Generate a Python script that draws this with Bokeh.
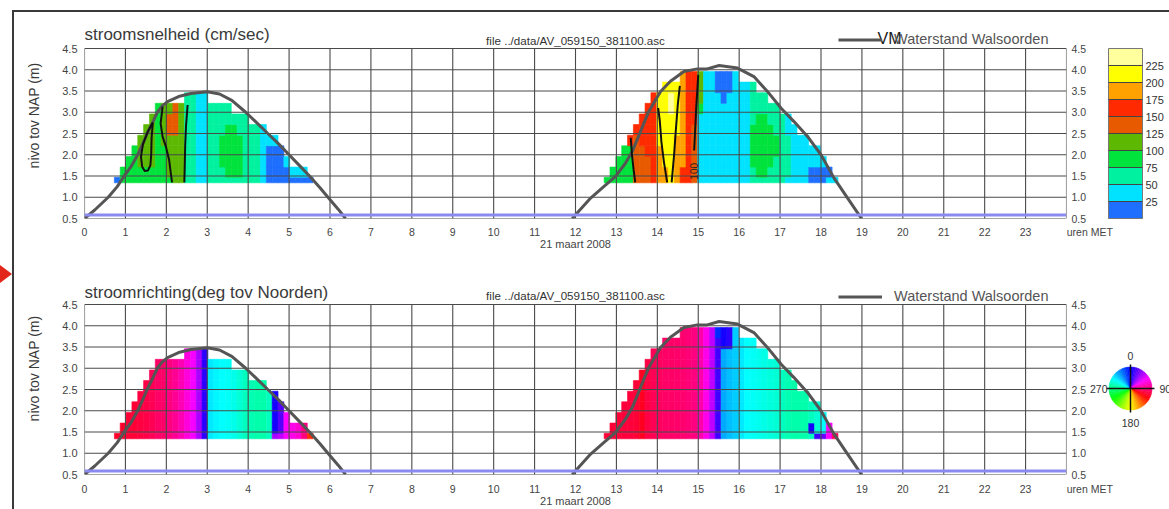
import math, colorsys
from bokeh.plotting import figure
from bokeh.layouts import column, row
from bokeh.models import (ColumnDataSource, LinearColorMapper, FixedTicker, LinearAxis, Range1d,
                          Span, ColorBar, Div, Spacer, PrintfTickFormatter, Legend, LegendItem)
from bokeh.transform import transform
from bokeh.core.properties import value
from bokeh.embed import file_html
from bokeh.resources import INLINE

FONT = "Liberation Sans"
GRID = "#4a4a4a"
TXT = "#3a3a3a"

# ---------------- axes / texts ----------------
hour_ticks = list(range(0, 25))
level_ticks = [0.5, 1.0, 1.5, 2.0, 2.5, 3.0, 3.5, 4.0, 4.5]
speed_ticks = [25, 50, 75, 100, 125, 150, 175, 200, 225]
date_label = "21 maart 2008"
time_unit = "uren MET"
ylabel = "nivo tov NAP (m)"
file_name = "file ../data/AV_059150_381100.asc"
title_speed = "stroomsnelheid (cm/sec)"
title_dir = "stroomrichting(deg tov Noorden)"
wl_name = "Waterstand Walsoorden"
stray_label = "VM"

# ---------------- water level Walsoorden (m NAP) ----------------
wl1_t = [0.0, 0.25, 0.58, 0.80, 0.97, 1.15, 1.30, 1.42, 1.53, 1.66, 1.78, 1.90, 2.03, 2.30, 2.60,
         3.00, 3.30, 3.60, 3.94, 4.20, 4.48, 4.75, 5.00, 5.25, 5.50, 5.75, 5.95, 6.20, 6.38]
wl1_z = [0.50, 0.70, 1.00, 1.25, 1.50, 1.74, 2.00, 2.25, 2.50, 2.75, 3.00, 3.15, 3.25, 3.37, 3.44,
         3.48, 3.43, 3.28, 3.00, 2.76, 2.50, 2.25, 2.00, 1.75, 1.50, 1.23, 1.00, 0.72, 0.50]
wl2_t = [11.92, 12.37, 12.69, 12.98, 13.22, 13.39, 13.59, 13.79, 14.08, 14.32, 14.65, 14.98, 15.22,
         15.51, 15.96, 16.36, 16.69, 17.02, 17.34, 17.67, 18.00, 18.32, 18.65, 18.99]
wl2_z = [0.50, 0.98, 1.25, 1.49, 1.80, 2.08, 2.55, 3.02, 3.49, 3.73, 3.96, 4.02, 4.02,
         4.10, 4.04, 3.84, 3.49, 3.10, 2.78, 2.43, 2.00, 1.45, 0.98, 0.50]
bodem_level = 0.58

# ---------------- ADCP grid ----------------
z_edges = [1.34, 1.47, 1.71, 1.96, 2.21, 2.46, 2.71, 2.96, 3.21, 3.46, 3.71, 3.96]
col_start = [0.73, 12.70]
col_width = 1 / 7.0

# speed class per cell (k -> 25k..25k+25 cm/s), one string per time column, from bottom upward
speed_1 = ["0", "33", "333", "3333", "33444", "334444", "3344444", "33333333", "33334444",
           "34444554", "44444555", "44444444", "222222222", "222222222", "111111111",
           "111111111", "22222222", "22222222", "22333222", "23333322", "2333332", "2333322",
           "2222222", "222222", "222222", "111111", "00001", "00001", "0000", "001", "01",
           "01", "01", "0"]
speed_2 = ["3", "33", "333", "3333", "33336", "555556", "5555666", "55566666", "666666666",
           "777788888", "7788888888", "8888888998", "7777788888", "66777777777", "66666666666",
           "55555566666", "11111113444", "11111111111", "11111111111", "11111111100",
           "11111111000", "11111111100", "11111111111", "1111111111", "1111111111",
           "2233332222", "233333322", "233333322", "22333322", "22233222", "2222222",
           "1222211", "111111", "11111", "11111", "0011", "0011", "001", "10", "1"]
# direction (deg tov Noorden) per time column
dir_1 = [110, 110, 108, 107, 105, 103, 100, 97, 95, 90, 85, 78, 68, 58, 40, 10, 305, 302, 300,
         298, 295, 290, 285, 282, 280, 280, 285, 5, 20, 60, 65, 70, 90, 130]
dir_2 = [108, 108, 107, 106, 106, 108, 112, 104, 100, 98, 97, 96, 95, 94, 92, 90, 80, 65, 45, 15,
         320, 315, 312, 305, 300, 298, 296, 294, 292, 290, 285, 282, 280, 280, 280, 285, 290, 300,
         60, 100]
# single cells deviating from their column: (tide, column, row, deg)
dir_spots = [(0, 27, 0, 40), (0, 28, 0, 45), (1, 19, 10, 350), (1, 20, 9, 5), (1, 20, 10, 5),
             (1, 21, 9, 10), (1, 21, 10, 10), (1, 35, 1, 5), (1, 36, 0, 15), (1, 37, 0, 25)]

# contour lines (100 / 200 cm/s) of the speed field
contour_t = [[1.67, 1.55, 1.43, 1.38, 1.41, 1.47, 1.55, 1.61, 1.63, 1.64, 1.67],
             [1.91, 1.86, 1.91, 1.99, 2.07, 2.11, 2.14],
             [2.52, 2.48, 2.46, 2.45, 2.44],
             [13.35, 13.38, 13.42, 13.46],
             [14.02, 14.06, 14.10, 14.16, 14.24],
             [14.55, 14.50, 14.45, 14.41, 14.35],
             [15.00, 14.95, 14.90]]
contour_z = [[2.76, 2.55, 2.25, 1.95, 1.72, 1.62, 1.63, 1.75, 2.00, 2.40, 2.76],
             [3.13, 2.74, 2.42, 2.19, 1.87, 1.56, 1.35],
             [3.17, 2.66, 2.19, 1.72, 1.35],
             [2.40, 2.00, 1.65, 1.35],
             [3.10, 2.80, 2.30, 1.84, 1.35],
             [3.62, 3.18, 2.55, 2.00, 1.35],
             [3.88, 3.10, 2.10]]
contour_label_text = ["100"]
contour_label_t = [14.90]
contour_label_z = [1.61]

speed_colors = ["#1f6fff", "#00e2ff", "#00f2a0", "#00e33c", "#5cb800",
                "#e85a00", "#ff2a00", "#ffa200", "#ffff00", "#ffff9e"]
wheel_text = ["0", "90", "180", "270"]
wheel_sector = 5  # degrees per wheel sector

# ---------------- colour mappers ----------------
speed_mapper = LinearColorMapper(palette=speed_colors, low=0, high=250)
dir_palette = []
for d in range(360):
    r, g, b = colorsys.hsv_to_rgb(((240 + d) % 360) / 360.0, 1.0, 1.0)
    dir_palette.append("#%02x%02x%02x" % (int(round(r * 255)), int(round(g * 255)), int(round(b * 255))))
dir_mapper = LinearColorMapper(palette=dir_palette, low=0, high=360)

# ---------------- cells ----------------
spots = {(a, b, c): dd for a, b, c, dd in dir_spots}
cells = dict(left=[], right=[], bottom=[], top=[], v=[], d=[])
for tide, (scols, dcols) in enumerate([(speed_1, dir_1), (speed_2, dir_2)]):
    for i, col in enumerate(scols):
        left = col_start[tide] + i * col_width
        for r, ch in enumerate(col):
            cells["left"].append(left)
            cells["right"].append(left + col_width)
            cells["bottom"].append(z_edges[r])
            cells["top"].append(z_edges[r + 1])
            cells["v"].append(int(ch) * 25 + 12.5)
            cells["d"].append(spots.get((tide, i, r), dcols[i]))

nan = float("nan")
wl_src = dict(t=wl1_t + [nan] + wl2_t, z=wl1_z + [nan] + wl2_z)

FW, FH = 982, 170          # plot area (px)
LB, RB = 70, 103           # left / right borders of the full-width parts
PXM = FH / 4.0             # pixels per metre
NB = "\u00a0"
ZLO, ZHI = level_ticks[0], level_ticks[-1]


def style_xaxis(xa, standoff):
    xa.ticker = FixedTicker(ticks=hour_ticks)
    xa.major_label_overrides = {24: NB * 16 + time_unit}
    xa.axis_line_color = None
    xa.major_tick_line_color = None
    xa.minor_tick_line_color = None
    xa.major_tick_out = 0
    xa.major_tick_in = 0
    xa.minor_tick_out = 0
    xa.minor_tick_in = 0
    xa.major_label_standoff = standoff
    xa.major_label_text_font = FONT
    xa.major_label_text_font_size = "10.5px"
    xa.major_label_text_color = "#444"
    xa.axis_label = date_label
    xa.axis_label_text_font = FONT
    xa.axis_label_text_font_size = "11px"
    xa.axis_label_text_font_style = "normal"
    xa.axis_label_text_color = "#444"
    xa.axis_label_standoff = -3


def style_yaxis(ya, standoff, size):
    ya.ticker = FixedTicker(ticks=level_ticks)
    ya.formatter = PrintfTickFormatter(format="%.1f")
    ya.bounds = (ZLO, ZHI)
    ya.axis_line_color = None
    ya.major_tick_line_color = None
    ya.minor_tick_line_color = None
    ya.major_tick_out = 0
    ya.major_tick_in = 0
    ya.minor_tick_out = 0
    ya.minor_tick_in = 0
    ya.major_label_standoff = standoff
    ya.major_label_text_font = FONT
    ya.major_label_text_font_size = size
    ya.major_label_text_color = "#444"


def make_panel(field, mapper, head_px, right_border, with_xaxis, bottom_border,
               title, title_y, file_y, leg_y, contours=False, extra=None):
    p = figure(frame_width=FW, frame_height=FH + head_px, x_range=Range1d(0, 24),
               y_range=Range1d(ZLO, ZHI + head_px / PXM),
               min_border_left=LB, min_border_right=right_border, min_border_top=0,
               min_border_bottom=bottom_border, output_backend="svg", toolbar_location=None,
               background_fill_color="white", border_fill_color="white",
               x_axis_location="below" if with_xaxis else None)
    p.outline_line_color = None
    p.xgrid.visible = False
    p.ygrid.visible = False
    src = ColumnDataSource(cells)
    p.quad(left="left", right="right", bottom="bottom", top="top", source=src,
           fill_color=transform(field, mapper), line_color=transform(field, mapper), line_width=0.6)
    # grid lines of the plot area (hours x levels)
    p.segment(x0=hour_ticks, x1=hour_ticks, y0=[ZLO] * len(hour_ticks), y1=[ZHI] * len(hour_ticks),
              line_color=GRID, line_width=1.1)
    p.segment(x0=[0] * len(level_ticks), x1=[24] * len(level_ticks), y0=level_ticks, y1=level_ticks,
              line_color=GRID, line_width=1.1)
    if with_xaxis:
        style_xaxis(p.xaxis[0], 7)
    ya = p.yaxis[0]
    style_yaxis(ya, 7, "11px")
    ya.axis_label = ylabel
    ya.axis_label_text_font = FONT
    ya.axis_label_text_font_size = "14px"
    ya.axis_label_text_font_style = "normal"
    ya.axis_label_text_color = TXT
    ya.axis_label_standoff = 17
    ra = LinearAxis()
    style_yaxis(ra, 5, "10.5px")
    p.add_layout(ra, "right")
    p.add_layout(Span(location=bodem_level, dimension="width", line_color="#8a8af0", line_width=3))
    wl = p.line("t", "z", source=ColumnDataSource(wl_src), line_color="#555555", line_width=3)
    if contours:
        p.multi_line(xs=contour_t, ys=contour_z, line_color="#111111", line_width=2)
        p.text(x=contour_label_t, y=contour_label_z, text=contour_label_text, angle=math.pi / 2,
               text_align="center", text_baseline="middle", text_font=value(FONT),
               text_font_size="10px", text_color="#222222")
    # texts above the plot area
    p.text(x=[0], y=[ZHI + title_y / PXM], text=[title], text_font=value(FONT), text_font_size="17px",
           text_color=TXT, text_align="left", text_baseline="middle")
    p.text(x=[12], y=[ZHI + file_y / PXM], text=[file_name], text_font=value(FONT),
           text_font_size="11.6px", text_color="#333", text_align="center", text_baseline="middle")
    if extra:
        p.text(x=[19.38], y=[ZHI + (leg_y + 1) / PXM], text=[extra], text_font=value(FONT),
               text_font_size="16px", text_color="#1a1a1a", text_align="left", text_baseline="middle")
    leg = Legend(items=[LegendItem(label=wl_name, renderers=[wl])],
                 location=(754, FH + leg_y - 8.5), padding=0, margin=0, spacing=0,
                 glyph_width=44, glyph_height=17, label_height=17, label_standoff=12,
                 label_text_font=FONT, label_text_font_size="14.5px", label_text_color="#555",
                 border_line_alpha=0, background_fill_alpha=0)
    p.add_layout(leg, "center")
    return p


# ---------- top block ----------
top = make_panel("v", speed_mapper, 36, RB, True, 44, title_speed, 14, 8, 9,
                 contours=True, extra=stray_label)
cb = ColorBar(color_mapper=speed_mapper, ticker=FixedTicker(ticks=speed_ticks), width=34, height=FH,
              location=(1024, 0), padding=0, margin=0, bar_line_color="#777777",
              major_tick_in=34, major_tick_out=0, major_tick_line_color="#444444",
              major_label_text_font=FONT, major_label_text_font_size="11px",
              major_label_text_color="#333", label_standoff=3, border_line_color=None,
              background_fill_color=None)
top.add_layout(cb, "center")

# ---------- bottom block ----------
WHEEL_W = 81
bottom = make_panel("d", dir_mapper, 42, RB - WHEEL_W, False, 6, title_dir, 12.5, 9, 8)

WH = FH + 42 + 6
wheel = figure(frame_width=WHEEL_W, frame_height=WH, x_range=Range1d(0, WHEEL_W), y_range=Range1d(0, WH),
               min_border=0, output_backend="svg", toolbar_location=None, x_axis_location=None,
               y_axis_location=None, background_fill_color="white", border_fill_color="white")
wheel.outline_line_color = None
wheel.xgrid.visible = False
wheel.ygrid.visible = False
wcx, wcy, wr = 41, 92, 21.5
sect = list(range(0, 360, wheel_sector))
wsrc = ColumnDataSource(dict(d=[s + wheel_sector / 2 for s in sect],
                             a0=[math.radians(90 - s - wheel_sector) for s in sect],
                             a1=[math.radians(90 - s) for s in sect]))
wheel.wedge(x=wcx, y=wcy, radius=wr, start_angle="a0", end_angle="a1",
            source=wsrc, fill_color=transform("d", dir_mapper), line_color=transform("d", dir_mapper),
            line_width=0.5)
wheel.segment(x0=[wcx - 24, wcx], y0=[wcy, wcy - 24], x1=[wcx + 24, wcx], y1=[wcy, wcy + 24],
              line_color="#111111", line_width=1.5)
wheel.text(x=[wcx, wcx + 29, wcx, wcx - 23], y=[wcy + 33, wcy, wcy - 34, wcy], text=wheel_text,
           text_align=["center", "left", "center", "right"], text_baseline="middle",
           text_font=value(FONT), text_font_size="10.5px", text_color="#333")

foot_b = figure(frame_width=FW, frame_height=1, x_range=bottom.x_range, y_range=Range1d(0, 1),
                min_border_left=LB, min_border_right=RB, min_border_top=0, min_border_bottom=28,
                output_backend="svg", toolbar_location=None, y_axis_location=None,
                background_fill_color="white", border_fill_color="white")
foot_b.outline_line_color = None
foot_b.xgrid.visible = False
foot_b.ygrid.visible = False
style_xaxis(foot_b.xaxis[0], 1)

# ---------- page frame ----------
top_line = Div(text="", width=1157, height=2, margin=0, styles={"background-color": "#3a3a3a"})
left_line = Div(text="", width=2, height=497, margin=0, styles={"background-color": "#3a3a3a"})
arrow = Div(text='<div style="position:relative;width:12px;height:497px;">'
                 '<div style="position:absolute;left:0;top:253px;width:0;height:0;'
                 'border-top:9px solid transparent;border-bottom:9px solid transparent;'
                 'border-left:12px solid #e3261c;"></div></div>', width=12, height=497, margin=0)

layout = column(Spacer(width=1169, height=10),
                row(Spacer(width=12, height=2), top_line),
                row(arrow, left_line,
                    column(top, row(bottom, wheel), foot_b)))

open("out.html", "w").write(file_html(layout, INLINE))
